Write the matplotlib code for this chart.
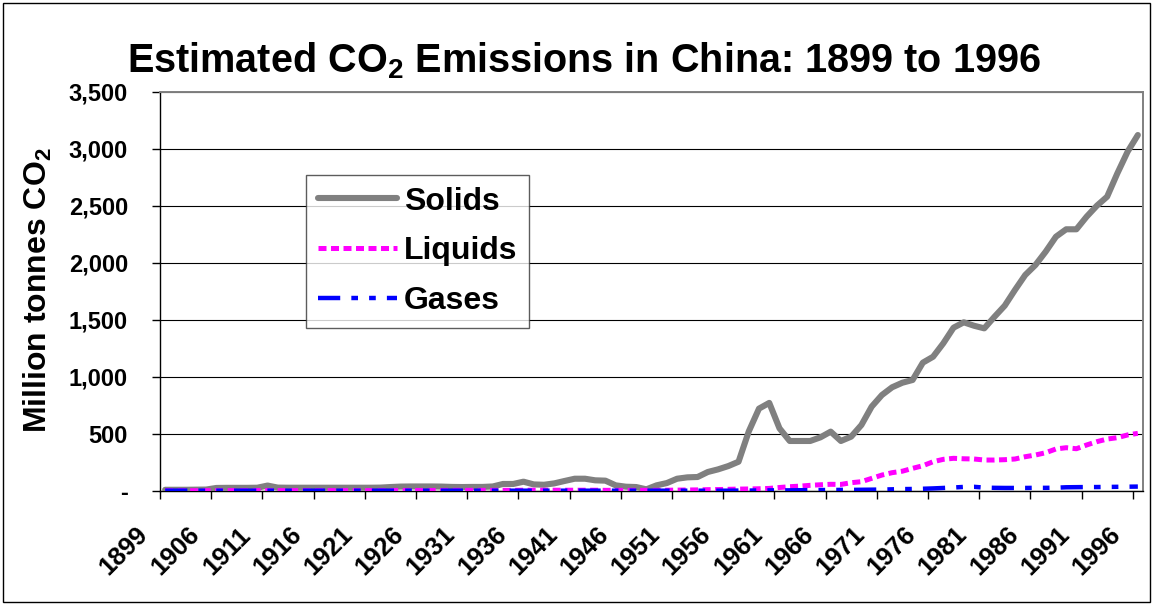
import numpy as np
import matplotlib
matplotlib.use("Agg")
import matplotlib.pyplot as plt
from matplotlib.transforms import ScaledTranslation
from matplotlib.patches import Rectangle

plt.rcParams["font.family"] = ["Liberation Sans", "DejaVu Sans"]
plt.rcParams["font.weight"] = "bold"
plt.rcParams["mathtext.fontset"] = "custom"
plt.rcParams["mathtext.rm"] = "Liberation Sans:bold"
plt.rcParams["mathtext.bf"] = "Liberation Sans:bold"

# annual series (million tonnes CO2); 1900-1901 missing from the record
years = [1899] + list(range(1902, 1997))

solids = [
    8, 8, 8, 9, 10,                                  # 1899, 1902-1905
    24, 25, 25, 25, 26,                              # 1906-1910
    45, 27, 26, 26, 26, 26, 26, 26, 26, 26,          # 1911-1920
    26, 27, 32, 36, 37, 37, 37, 36, 33, 32,          # 1921-1930
    33, 33, 37, 59, 59, 79, 55, 52, 64, 85,          # 1931-1940
    105, 105, 91, 88, 47, 35, 32, 12, 47, 67,        # 1941-1950
    105, 117, 120, 164, 187, 216, 254, 520, 720, 770,  # 1951-1960
    547, 436, 436, 436, 468, 518, 436, 474, 576, 737,  # 1961-1970
    839, 907, 947, 971, 1123, 1175, 1293, 1430, 1477, 1447,  # 1971-1980
    1424, 1526, 1623, 1761, 1892, 1980, 2097, 2228, 2293, 2293,  # 1981-1990
    2404, 2500, 2579, 2784, 2974, 3120,              # 1991-1996
]

liquids = [
    0, 0, 0, 0, 0,
    0, 1, 1, 1, 1,
    1, 1, 1, 1, 1, 1, 1, 1, 1, 1,
    1, 1, 2, 2, 2, 2, 2, 2, 3, 3,
    3, 3, 3, 3, 3, 4, 4, 4, 4, 4,
    4, 4, 4, 3, 3, 3, 3, 3, 3, 4,
    5, 6, 7, 9, 10, 12, 14, 15, 17, 20,
    28, 35, 40, 47, 52, 56, 55, 70, 79, 108,
    137, 158, 171, 196, 219, 254, 275, 284, 280, 278,
    269, 269, 272, 278, 298, 313, 333, 366, 377, 368,
    401, 430, 453, 465, 489, 503,
]

gases = [
    0, 0, 0, 0, 0,
    0, 0, 0, 0, 0,
    0, 0, 0, 0, 0, 0, 0, 0, 0, 0,
    0, 0, 0, 0, 0, 0, 0, 0, 0, 0,
    0, 0, 0, 0, 0, 0, 0, 0, 0, 0,
    0, 0, 0, 0, 0, 0, 0, 0, 0, 0,
    0, 0, 0, 0, 0, 0, 1, 1, 2, 3,
    3, 3, 4, 5, 6, 6, 7, 7, 8, 9,
    10, 12, 14, 15, 17, 20, 24, 28, 33, 34,
    27, 25, 24, 24, 24, 25, 25, 26, 30, 31,
    32, 32, 33, 34, 35, 36,
]

y_ticks = [0, 500, 1000, 1500, 2000, 2500, 3000, 3500]
y_tick_labels = ["-", "500", "1,000", "1,500", "2,000", "2,500", "3,000", "3,500"]

fig = plt.figure(figsize=(11.53, 6.04), dpi=100)
ax = fig.add_axes([0.1388, 0.1876, 0.8525, 0.6606])

x = np.arange(len(years)) + 0.5
ax.plot(x, solids, color="#808080", lw=4.4, solid_capstyle="round",
        solid_joinstyle="round", label="Solids", zorder=3)
ax.plot(x, liquids, color="#FF00FF", lw=3.6, dashes=(1.6, 0.9),
        label="Liquids", zorder=4)
ax.plot(x, gases, color="#0000FF", lw=3.2, dashes=(5, 2.5, 1.5, 2.5, 1.5, 2.5),
        label="Gases", zorder=5)

ax.set_xlim(0, len(years))
ax.set_ylim(0, 3500)

# y axis
ax.set_yticks(y_ticks)
ax.set_yticklabels(y_tick_labels, fontsize=17, fontweight="bold")
ax.tick_params(axis="y", direction="out", length=6, width=1, pad=17, colors="black")
ax.yaxis.grid(True, color="black", lw=0.8)
ax.set_axisbelow(True)

# x axis: tick marks between categories, labels under every fifth category
tick_pos = np.arange(0, len(years), 5)
ax.set_xticks(tick_pos)
ax.set_xticklabels([])
ax.set_xticks(tick_pos + 0.5, minor=True)
ax.set_xticklabels([str(years[i]) for i in tick_pos], minor=True,
                   fontsize=18.5, fontweight="bold", rotation=45,
                   ha="right", va="center", rotation_mode="anchor")
ax.tick_params(axis="x", which="major", direction="out", length=6, width=1)
ax.tick_params(axis="x", which="minor", length=0, pad=29)
shift = ScaledTranslation(-0.21, 0, fig.dpi_scale_trans)
for lbl in ax.get_xticklabels(minor=True):
    lbl.set_transform(lbl.get_transform() + shift)

for side in ["left", "bottom"]:
    ax.spines[side].set_color("black")
    ax.spines[side].set_linewidth(1)
for side in ["top", "right"]:
    ax.spines[side].set_color("#808080")
    ax.spines[side].set_linewidth(1.4)

leg = ax.legend(loc="upper left", bbox_to_anchor=(0.1485, 0.791),
                prop={"size": 23, "weight": "bold"}, frameon=True,
                fancybox=False, handlelength=2.5, handletextpad=0.2,
                borderpad=0.36, labelspacing=0.62, borderaxespad=0)
leg.get_frame().set_edgecolor("#333333")
leg.get_frame().set_linewidth(1)

fig.text(0.506, 0.90, r"Estimated CO$_{\mathbf{2}}$ Emissions in China: 1899 to 1996",
         ha="center", va="center", fontsize=28.5, fontweight="bold")
fig.text(0.033, 0.52, r"Million tonnes CO$_{\mathbf{2}}$", rotation=90,
         ha="center", va="center", fontsize=23, fontweight="bold")

fig.patches.append(Rectangle((3, 2), 1147, 599, transform=None, fill=False,
                             edgecolor="black", lw=1))

fig.savefig("out.png", dpi=100)
